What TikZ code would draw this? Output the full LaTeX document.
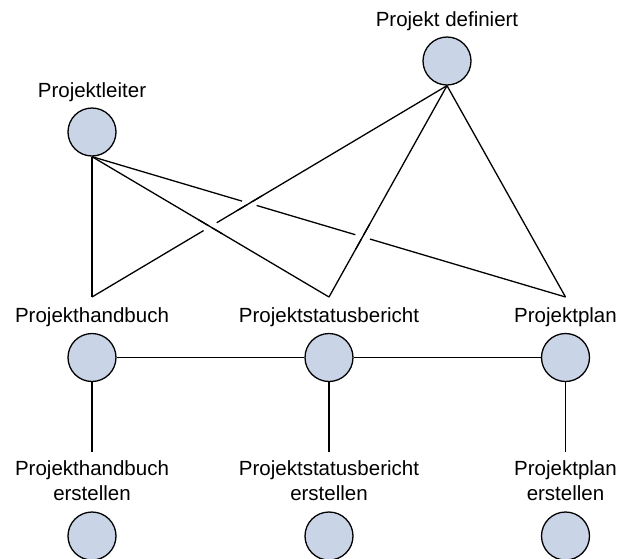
\documentclass[tikz,border=0pt]{standalone}
\usepackage{fontspec}
\setmainfont{Liberation Sans}
\usetikzlibrary{intersections,calc}
\definecolor{nodefill}{HTML}{C9D5E6}
\begin{document}
\begin{tikzpicture}[x=1pt,y=-1pt,
  ball/.style={circle,draw=black,fill=nodefill,line width=1.3pt,minimum size=48pt,inner sep=0pt},
  lbl/.style={font=\fontsize{20.5}{25.7}\selectfont,inner sep=0pt,anchor=base,align=center},
  conn/.style={draw=black,line width=1.3pt},
  gapw/.style={draw=white,line width=4pt}]
\useasboundingbox (0,0) rectangle (619,558);
% circles
\node[ball] (pd) at (447,61) {};
\node[ball] (pl) at (92,132) {};
\node[ball] (hb) at (92,357.5) {};
\node[ball] (st) at (329,357.5) {};
\node[ball] (pp) at (565.5,357.5) {};
\node[ball] (hbe) at (92,536) {};
\node[ball] (ste) at (329,536) {};
\node[ball] (ppe) at (565.5,536) {};
% labels
\node[lbl] (tpd) at (447,26) {Projekt definiert};
\node[lbl] (tpl) at (92,97) {Projektleiter};
\node[lbl] (thb) at (92,322) {Projekthandbuch};
\node[lbl] (tst) at (329,322) {Projektstatusbericht};
\node[lbl] (tpp) at (565.5,322) {Projektplan};
\node[lbl] (thbe) at (92,500.7) {Projekthandbuch\\erstellen};
\node[lbl] (tste) at (329,500.7) {Projektstatusbericht\\erstellen};
\node[lbl] (tppe) at (565.5,500.7) {Projektplan\\erstellen};
% connector end points above labels
\coordinate (hbTop) at (92,297);
\coordinate (stTop) at (329,297);
\coordinate (ppTop) at (565.5,297);
\coordinate (hbeTop) at (92,452);
\coordinate (steTop) at (329,452);
\coordinate (ppeTop) at (565.5,452);
% connectors
\draw[conn,name path=plpp] (pl.south) -- (ppTop);
\draw[conn,name path=pdhb] (pd.south) -- (hbTop);
\draw[conn,name path=plst] (pl.south) -- (stTop);
\draw[conn,name path=pdst] (pd.south) -- (stTop);
\draw[conn] (pl.south) -- (hbTop);
\draw[conn] (pd.south) -- (ppTop);
\draw[conn] (hb) -- (st);
\draw[conn] (st) -- (pp);
\draw[conn] (hb) -- (hbeTop);
\draw[conn] (st) -- (steTop);
\draw[conn] (pp) -- (ppeTop);
% line gaps at crossings
\path[name intersections={of=plpp and pdhb,by=xa}];
\path[name intersections={of=plpp and pdst,by=xb}];
\path[name intersections={of=pdhb and plst,by=xc}];
\draw[gapw] ($(xa)!7.5pt!(pl.south)$) -- ($(xa)!7.5pt!(ppTop)$);
\draw[conn] ($(xa)!14pt!(pd.south)$) -- ($(xa)!14pt!(hbTop)$);
\draw[gapw] ($(xb)!7.5pt!(pl.south)$) -- ($(xb)!7.5pt!(ppTop)$);
\draw[conn] ($(xb)!14pt!(pd.south)$) -- ($(xb)!14pt!(stTop)$);
\draw[gapw] ($(xc)!7.5pt!(pd.south)$) -- ($(xc)!7.5pt!(hbTop)$);
\draw[conn] ($(xc)!14pt!(pl.south)$) -- ($(xc)!14pt!(stTop)$);
\end{tikzpicture}
\end{document}
